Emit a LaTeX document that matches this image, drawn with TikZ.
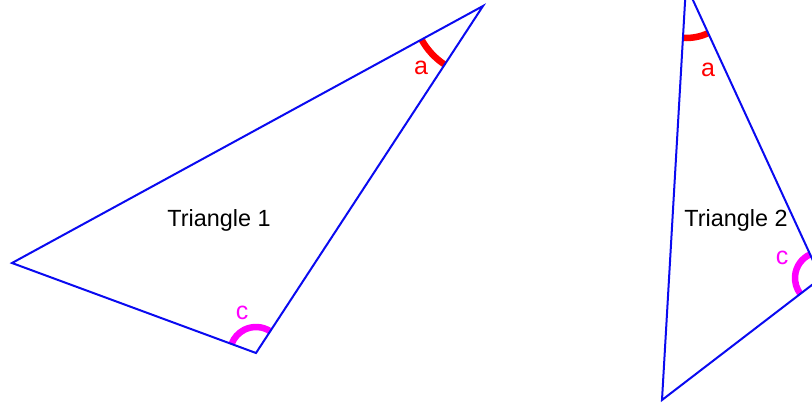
\documentclass[tikz,border=0pt]{standalone}
\usepackage{fontspec}
\setmainfont{Liberation Sans}
\definecolor{triblue}{RGB}{10,10,240}
\definecolor{angred}{RGB}{255,0,0}
\definecolor{angmag}{RGB}{255,0,255}
\begin{document}
\begin{tikzpicture}[x=1pt,y=-1pt,
  edge/.style={triblue,line width=2pt,line join=miter},
  anga/.style={angred,line width=6.5pt},
  angc/.style={angmag,line width=6.5pt},
  title/.style={font=\fontsize{23.4}{27}\selectfont,inner sep=0pt},
  lbla/.style={text=angred,font=\fontsize{25}{28}\selectfont,inner sep=0pt},
  lblc/.style={text=angmag,font=\fontsize{25}{28}\selectfont,inner sep=0pt}]
\clip (0,0) rectangle (812,402);
% Triangle 1
\coordinate (L1) at (12,263);
\coordinate (A1) at (483,6);
\coordinate (B1) at (256,353);
% Triangle 2
\coordinate (P2) at (686,-15);
\coordinate (Q2) at (662,400);
\coordinate (R2) at (821,278);
% angle arcs (angles in screen orientation: y axis points down)
\draw[anga] ([shift={(151.4:70)}]A1) arc[start angle=151.4,end angle=123.2,radius=70];
\draw[angc] ([shift={(-56.8:26)}]B1) arc[start angle=-56.8,end angle=-159.8,radius=26];
\draw[anga] ([shift={(93.3:53)}]P2) arc[start angle=93.3,end angle=65.3,radius=53];
\draw[angc] ([shift={(-114.7:26)}]R2) arc[start angle=-114.7,end angle=-217.5,radius=26];
% edges
\draw[edge] (L1) -- (A1) -- (B1) -- cycle;
\draw[edge] (P2) -- (Q2) -- (R2) -- cycle;
% labels
\node[title] (t1) at (219,220) {Triangle 1};
\node[title] (t2) at (736,220) {Triangle 2};
\node[lbla] (a1) at (421,68) {a};
\node[lblc] (c1) at (242,313) {c};
\node[lbla] (a2) at (708,70) {a};
\node[lblc] (c2) at (782,258) {c};
\end{tikzpicture}
\end{document}
